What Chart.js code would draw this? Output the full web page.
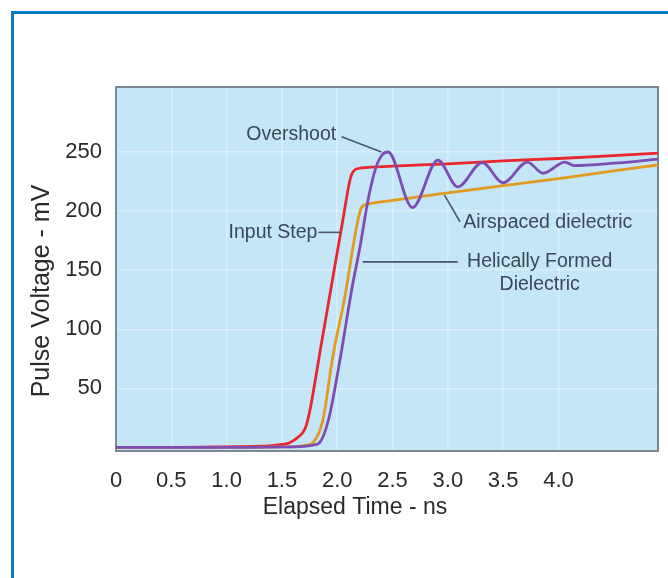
<!DOCTYPE html>
<html>
<head>
<meta charset="utf-8">
<script src="https://cdn.jsdelivr.net/npm/chart.js@4/dist/chart.umd.min.js"></script>
<style>
  html, body { margin: 0; padding: 0; background: #ffffff; }
  #wrap { position: relative; width: 668px; height: 578px; overflow: hidden; }
  #frame { position: absolute; left: 11px; top: 11px; width: 720px; height: 640px;
           border-left: 3px solid #0b7bc1; border-top: 3px solid #0b7bc1; box-sizing: border-box; }
  canvas { position: absolute; left: 0; top: 0; }
</style>
</head>
<body>
<div id="wrap">
  <div id="frame"></div>
  <canvas id="c" width="668" height="578"></canvas>
</div>
<script>
// ---- Data ----
// Input Step (red)
const inputStepX = [0, 0.5, 1.0, 1.3, 1.45, 1.57, 1.65, 1.71, 1.75, 1.85, 1.95, 2.05, 2.12, 2.16, 2.22, 2.5, 3.0, 3.5, 4.0, 4.5, 4.9];
const inputStepY = [0, 0, 0.5, 1, 2, 4, 9, 16, 30, 84, 138, 192, 228, 235, 236.5, 238, 240, 242.5, 244.5, 247, 249];
// Helically Formed Dielectric (orange)
const helicalX = [0, 1.0, 1.5, 1.65, 1.72, 1.78, 1.87, 1.96, 2.07, 2.17, 2.22, 2.28, 2.5, 3.0, 3.5, 4.0, 4.5, 4.9];
const helicalY = [0, 0, 0.5, 1, 2, 4, 23, 77, 128, 184, 203, 206, 209, 215.5, 221.5, 227.5, 234, 239];
// Airspaced dielectric (purple)
const airspacedX = [0, 1.0, 1.5, 1.7, 1.78, 1.84, 1.92, 2.03, 2.13, 2.21, 2.28, 2.35, 2.41, 2.46, 2.68, 2.91, 3.09, 3.31, 3.50, 3.72, 3.86, 4.06, 4.14, 4.5, 4.9];
const airspacedY = [0, 0, 0.5, 1, 2, 4, 23, 77, 133, 172, 210, 237, 248, 250, 203, 243, 220.5, 241, 224, 241.5, 232, 241.5, 238.5, 240.5, 244];

// Axis ticks
const xTickValues = [0, 0.5, 1.0, 1.5, 2.0, 2.5, 3.0, 3.5, 4.0];
const xTickLabels = ['0', '0.5', '1.0', '1.5', '2.0', '2.5', '3.0', '3.5', '4.0'];
const yTickValues = [50, 100, 150, 200, 250];
const yTickLabels = ['50', '100', '150', '200', '250'];

// Texts
const xTitle = 'Elapsed Time - ns';
const yTitle = 'Pulse Voltage - mV';
// annotation labels: text, anchor (data units), alignment; leader lines in data units
const notes = [
  { lines: ['Overshoot'], x: 2.0, y: 265, align: 'right', lead: [[2.04, 263], [2.40, 250]] },
  { lines: ['Input Step'], x: 1.83, y: 182, align: 'right', lead: [[1.83, 182], [2.03, 182]] },
  { lines: ['Airspaced dielectric'], x: 3.13, y: 190, align: 'left', lead: [[2.97, 213.5], [3.11, 191]] },
  { lines: ['Helically Formed', 'Dielectric'], x: 3.83, y: 157, align: 'center', lead: [[2.23, 157], [3.09, 157]] }
];

const toPts = (xs, ys) => xs.map((x, i) => ({ x: x, y: ys[i] }));

const FONT = '"Liberation Sans", Arial, Helvetica, sans-serif';

const decor = {
  id: 'decor',
  beforeDraw(chart) {
    const a = chart.chartArea, ctx = chart.ctx;
    ctx.save();
    ctx.fillStyle = '#c4e6f6';
    ctx.fillRect(a.left, a.top, a.right - a.left, a.bottom - a.top);
    ctx.restore();
  },
  beforeDatasetsDraw(chart) {
    const a = chart.chartArea, ctx = chart.ctx;
    ctx.save();
    ctx.strokeStyle = '#7b8893';
    ctx.lineWidth = 2;
    ctx.strokeRect(a.left, a.top, a.right - a.left, a.bottom - a.top);
    ctx.restore();
  },
  afterDraw(chart) {
    const ctx = chart.ctx;
    const xs = chart.scales.x, ys = chart.scales.y;
    ctx.save();
    // annotations
    ctx.strokeStyle = '#4a5868';
    ctx.lineWidth = 1.6;
    ctx.fillStyle = '#3b4858';
    ctx.font = '19.5px ' + FONT;
    ctx.textBaseline = 'middle';
    notes.forEach(n => {
      ctx.beginPath();
      ctx.moveTo(xs.getPixelForValue(n.lead[0][0]), ys.getPixelForValue(n.lead[0][1]));
      ctx.lineTo(xs.getPixelForValue(n.lead[1][0]), ys.getPixelForValue(n.lead[1][1]));
      ctx.stroke();
      ctx.textAlign = n.align;
      const px = xs.getPixelForValue(n.x), py = ys.getPixelForValue(n.y);
      n.lines.forEach((t, i) => ctx.fillText(t, px + (n.align === 'left' ? 1 : n.align === 'right' ? -1 : 0), py + i * 23));
    });
    // axis titles
    ctx.fillStyle = '#2a2a2a';
    ctx.font = '23px ' + FONT;
    ctx.textAlign = 'center';
    ctx.fillText(xTitle, 355, 508);
    ctx.font = '25px ' + FONT;
    ctx.translate(42, 291);
    ctx.rotate(-Math.PI / 2);
    ctx.fillText(yTitle, 0, 0);
    ctx.restore();
  }
};

new Chart(document.getElementById('c'), {
  type: 'line',
  data: {
    datasets: [
      { label: 'Airspaced dielectric', data: toPts(airspacedX, airspacedY), borderColor: '#7d4db3', borderWidth: 2.8 },
      { label: 'Helically Formed Dielectric', data: toPts(helicalX, helicalY), borderColor: '#e39a1f', borderWidth: 2.8 },
      { label: 'Input Step', data: toPts(inputStepX, inputStepY), borderColor: '#e8262b', borderWidth: 2.8 }
    ]
  },
  options: {
    responsive: false,
    devicePixelRatio: 1,
    animation: false,
    events: [],
    layout: { padding: { left: 0, top: 87, right: 10, bottom: 0 } },
    elements: { point: { radius: 0 }, line: { cubicInterpolationMode: 'monotone', fill: false } },
    plugins: { legend: { display: false }, tooltip: { enabled: false }, title: { display: false } },
    scales: {
      x: {
        type: 'linear', min: 0, max: 4.9,
        afterBuildTicks(scale) { scale.ticks = xTickValues.map(v => ({ value: v })); },
        afterFit(scale) { scale.height = 127; },
        ticks: { padding: 17, color: '#2a2a2a', font: { family: FONT, size: 22 },
                 maxRotation: 0, autoSkip: false,
                 callback: (v, i) => xTickLabels[i] },
        grid: { color: 'rgba(255,255,255,0.38)', lineWidth: 1.5, drawTicks: false },
        border: { display: false }
      },
      y: {
        type: 'linear', min: -3, max: 305,
        afterBuildTicks(scale) { scale.ticks = yTickValues.map(v => ({ value: v })); },
        afterFit(scale) { scale.width = 116; },
        ticks: { padding: 14, color: '#2a2a2a', font: { family: FONT, size: 22 },
                 autoSkip: false, callback: (v, i) => yTickLabels[i] },
        grid: { color: 'rgba(255,255,255,0.38)', lineWidth: 1.5, drawTicks: false },
        border: { display: false }
      }
    }
  },
  plugins: [decor]
});
</script>
</body>
</html>
